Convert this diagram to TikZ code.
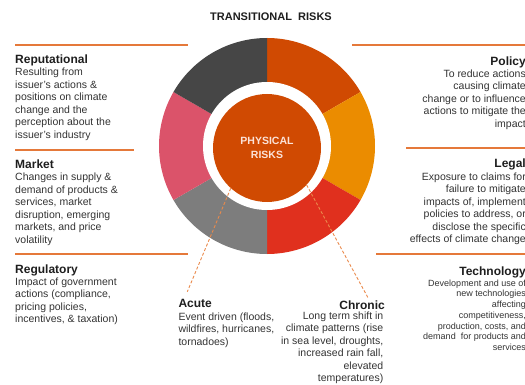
\documentclass[tikz,border=0pt]{standalone}
\usepackage{fontspec}
\setmainfont{Liberation Sans}
\definecolor{pwcorange}{HTML}{D04A02}
\definecolor{amber}{HTML}{EB8C00}
\definecolor{riskred}{HTML}{E0301E}
\definecolor{midgrey}{HTML}{7D7D7D}
\definecolor{rose}{HTML}{DB536A}
\definecolor{charcoal}{HTML}{464646}
\definecolor{rulecol}{HTML}{E5793A}
\definecolor{dashcol}{HTML}{EA8A4C}
\definecolor{headtext}{HTML}{1E1E1E}
\definecolor{bodytext}{HTML}{333333}
\definecolor{paletext}{HTML}{FBE2D8}
\begin{document}
% multi-line text nodes are anchored at the baseline of their last line
\begin{tikzpicture}[x=1pt,y=1pt,
  heading/.style={inner sep=0pt, font=\fontsize{12}{14}\selectfont\bfseries, text=headtext},
  body/.style={inner sep=0pt, font=\fontsize{10.5}{12.5}\selectfont, text=bodytext},
  smallbody/.style={inner sep=0pt, font=\fontsize{9}{10.7}\selectfont, text=bodytext},
  rulestyle/.style={draw=rulecol, line width=1.1pt},
  dashline/.style={draw=dashcol, line width=0.9pt, dash pattern=on 3pt off 2pt},
  wedge/.style={fill=#1}]
\useasboundingbox (0,-385) rectangle (525,0);

% title
\node[inner sep=0pt, anchor=base, font=\fontsize{11}{13}\selectfont\bfseries, text=headtext]
  (title) at (271,-20.7) {TRANSITIONAL\ \ RISKS};

% donut of transitional risks: six 60-degree wedges
\coordinate (ctr) at (267,-146);
\fill[wedge=pwcorange] (ctr) -- ++(30:108) arc[start angle=30, end angle=90, radius=108] -- cycle;
\fill[wedge=amber] (ctr) -- ++(-30:108) arc[start angle=-30, end angle=30, radius=108] -- cycle;
\fill[wedge=riskred] (ctr) -- ++(-90:108) arc[start angle=-90, end angle=-30, radius=108] -- cycle;
\fill[wedge=midgrey] (ctr) -- ++(-150:108) arc[start angle=-150, end angle=-90, radius=108] -- cycle;
\fill[wedge=rose] (ctr) -- ++(150:108) arc[start angle=150, end angle=210, radius=108] -- cycle;
\fill[wedge=charcoal] (ctr) -- ++(90:108) arc[start angle=90, end angle=150, radius=108] -- cycle;
\fill[white] (ctr) circle[radius=64];

% physical risks core
\node[circle, fill=pwcorange, minimum size=108pt, inner sep=0pt, align=center,
      font=\fontsize{10.5}{13.7}\selectfont\bfseries, text=paletext]
  (phys) at (267,-148) {PHYSICAL\\RISKS};

% separator rules
\draw[rulestyle] (15,-45) -- (188,-45);
\draw[rulestyle] (15,-150) -- (134,-150);
\draw[rulestyle] (15,-254) -- (188,-254);
\draw[rulestyle] (352,-45) -- (525,-45);
\draw[rulestyle] (406,-148) -- (525,-148);
\draw[rulestyle] (376,-254) -- (525,-254);

% left column
\node[heading, anchor=base west] (rep) at (15,-63.3) {Reputational};
\node[body, anchor=base west, align=left] (repb) at (15,-138.5)
  {Resulting from\\issuer's actions \&\\positions on climate\\change and the\\perception about the\\issuer's industry};
\node[heading, anchor=base west] (mkt) at (15,-168.3) {Market};
\node[body, anchor=base west, align=left] (mktb) at (15,-243.2)
  {Changes in supply \&\\demand of products \&\\services, market\\disruption, emerging\\markets, and price\\volatility};
\node[heading, anchor=base west] (reg) at (15,-273.3) {Regulatory};
\node[body, anchor=base west, align=left] (regb) at (15,-322.5)
  {Impact of government\\actions (compliance,\\pricing policies,\\incentives, \& taxation)};

% right column
\node[heading, anchor=base east] (pol) at (526,-65.7) {Policy};
\node[body, anchor=base east, align=right] (polb) at (526,-127.5)
  {To reduce actions\\causing climate\\change or to influence\\actions to mitigate the\\impact};
\node[heading, anchor=base east] (leg) at (526,-167.7) {Legal};
\node[body, anchor=base east, align=right] (legb) at (526,-242.6)
  {Exposure to claims for\\failure to mitigate\\impacts of, implement\\policies to address, or\\disclose the specific\\effects of climate change};
\node[heading, anchor=base east] (tech) at (526,-275) {Technology};
\node[smallbody, anchor=base east, align=right] (techb) at (526,-350.4)
  {Development and use of\\new technologies\\affecting\\competitiveness,\\production, costs, and\\demand\ \ for products and\\services};

% physical risk types
\node[heading, anchor=base west] (acute) at (178.3,-307.3) {Acute};
\node[body, anchor=base west, align=left] (acuteb) at (178.3,-345.2)
  {Event driven (floods,\\wildfires, hurricanes,\\tornadoes)};
\node[heading, anchor=base east] (chron) at (385,-309.3) {Chronic};
\node[body, anchor=base east, align=right] (chronb) at (383.5,-381.7)
  {Long term shift in\\climate patterns (rise\\in sea level, droughts,\\increased rain fall,\\elevated\\temperatures)};

% dashed leaders from the core
\coordinate (acutetip) at (187.3,-291.7);
\coordinate (chrontip) at (368.3,-298.3);
\draw[dashline] (phys.228) -- (acutetip);
\draw[dashline] (phys.317) -- (chrontip);
\end{tikzpicture}
\end{document}
